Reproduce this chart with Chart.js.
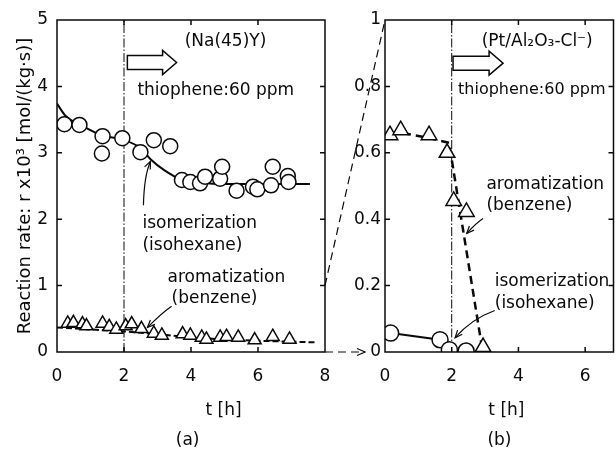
<!DOCTYPE html>
<html>
<head>
<meta charset="utf-8">
<script src="https://cdn.jsdelivr.net/npm/chart.js@4.4.1/dist/chart.umd.min.js"></script>
<style>
  html, body { margin: 0; padding: 0; background: #fff; }
  #wrap { position: relative; width: 616px; height: 450px; overflow: hidden; }
  #chartA { position: absolute; left: 0; top: 0; }
  #chartB { position: absolute; left: 316px; top: 0; }
</style>
</head>
<body>
<div id="wrap">
  <canvas id="chartA" width="334" height="450"></canvas>
  <canvas id="chartB" width="308" height="450"></canvas>
</div>
<script>
// (a) Na(45)Y
const naIsoTime = [0.22, 0.67, 1.34, 1.36, 1.95, 2.49, 2.89, 3.38, 3.73, 3.98, 4.27, 4.42, 4.87, 4.93, 5.36, 5.85, 5.98, 6.39, 6.44, 6.89, 6.91];
const naIsoRate = [3.43, 3.42, 2.99, 3.25, 3.22, 3.01, 3.19, 3.10, 2.59, 2.56, 2.54, 2.64, 2.61, 2.79, 2.43, 2.49, 2.45, 2.51, 2.79, 2.65, 2.56];
const naIsoFitTime = [0, 0.25, 0.7, 1.35, 1.95, 2.5, 2.8, 3.2, 3.7, 4.3, 5, 6, 7, 7.55];
const naIsoFitRate = [3.74, 3.56, 3.42, 3.26, 3.2, 3.07, 2.9, 2.74, 2.6, 2.55, 2.53, 2.53, 2.53, 2.53];
const naBenTime = [0.32, 0.49, 0.76, 0.88, 1.36, 1.56, 1.77, 2.05, 2.23, 2.52, 2.89, 3.13, 3.75, 3.98, 4.32, 4.46, 4.87, 5.06, 5.41, 5.90, 6.44, 6.94];
const naBenRate = [0.43, 0.44, 0.42, 0.39, 0.43, 0.38, 0.34, 0.39, 0.42, 0.35, 0.28, 0.25, 0.27, 0.25, 0.22, 0.19, 0.22, 0.23, 0.22, 0.18, 0.23, 0.19];
const naBenFitTime = [0, 1, 2, 3, 4, 5, 6, 7, 7.7];
const naBenFitRate = [0.37, 0.34, 0.31, 0.27, 0.22, 0.19, 0.17, 0.155, 0.145];

// (b) Pt/Al2O3-Cl-
const ptBenTime = [0.15, 0.47, 1.32, 1.86, 2.06, 2.44, 2.94];
const ptBenRate = [0.653, 0.668, 0.653, 0.60, 0.455, 0.422, 0.015];
const ptBenFitTime = [0.15, 0.5, 1.3, 1.92, 2.93];
const ptBenFitRate = [0.66, 0.66, 0.645, 0.63, 0.0];
const ptIsoTime = [0.17, 1.65, 1.93, 2.43];
const ptIsoRate = [0.057, 0.037, 0.007, 0.003];
const ptIsoFitTime = [0.17, 1.65, 1.93];
const ptIsoFitRate = [0.057, 0.037, 0.007];

const thiopheneOnset = 2; // h
const ink = '#0a0a0a';
const family = '"DejaVu Sans", sans-serif';

function pts(xs, ys) {
  return xs.map((x, i) => ({ x: x, y: ys[i] }));
}

// frame with inward ticks, notes, arrows
const frame = {
  id: 'frame',
  afterDatasetsDraw(chart, args, opts) {
    const { ctx, chartArea: a, scales: { x, y } } = chart;
    ctx.save();
    ctx.strokeStyle = ink;
    ctx.fillStyle = ink;
    ctx.lineWidth = 1.5;
    ctx.strokeRect(a.left, a.top, a.right - a.left, a.bottom - a.top);
    ctx.beginPath();
    x.ticks.forEach((t) => {
      if (t.value <= x.min || t.value >= x.max) return;
      const px = x.getPixelForValue(t.value);
      ctx.moveTo(px, a.bottom); ctx.lineTo(px, a.bottom - 5);
      ctx.moveTo(px, a.top); ctx.lineTo(px, a.top + 5);
    });
    y.ticks.forEach((t) => {
      if (t.value <= y.min || t.value >= y.max) return;
      const py = y.getPixelForValue(t.value);
      ctx.moveTo(a.left, py); ctx.lineTo(a.left + 5, py);
      ctx.moveTo(a.right, py); ctx.lineTo(a.right - 5, py);
    });
    ctx.stroke();

    // hollow arrow
    const b = opts.block;
    if (b) {
      const x0 = x.getPixelForValue(b.from), x1 = x.getPixelForValue(b.to);
      const yc = y.getPixelForValue(b.at), xb = x1 - 14;
      ctx.beginPath();
      ctx.moveTo(x0, yc - 7); ctx.lineTo(xb, yc - 7); ctx.lineTo(xb, yc - 12);
      ctx.lineTo(x1, yc); ctx.lineTo(xb, yc + 12); ctx.lineTo(xb, yc + 7);
      ctx.lineTo(x0, yc + 7); ctx.closePath();
      ctx.stroke();
    }

    // curved pointer arrows
    ctx.lineWidth = 1.2;
    (opts.pointers || []).forEach((p) => {
      const sx = x.getPixelForValue(p.s[0]), sy = y.getPixelForValue(p.s[1]);
      const cx = x.getPixelForValue(p.c[0]), cy = y.getPixelForValue(p.c[1]);
      const ex = x.getPixelForValue(p.e[0]), ey = y.getPixelForValue(p.e[1]);
      ctx.beginPath();
      ctx.moveTo(sx, sy);
      ctx.quadraticCurveTo(cx, cy, ex, ey);
      ctx.stroke();
      const ang = Math.atan2(ey - cy, ex - cx);
      ctx.beginPath();
      ctx.moveTo(ex - 8 * Math.cos(ang - 0.4), ey - 8 * Math.sin(ang - 0.4));
      ctx.lineTo(ex, ey);
      ctx.lineTo(ex - 8 * Math.cos(ang + 0.4), ey - 8 * Math.sin(ang + 0.4));
      ctx.stroke();
    });

    // notes
    ctx.textBaseline = 'middle';
    (opts.notes || []).forEach((n) => {
      ctx.font = (n.size || 17) + 'px ' + family;
      ctx.textAlign = n.align || 'left';
      ctx.fillText(n.text, x.getPixelForValue(n.t), y.getPixelForValue(n.v));
    });
    ctx.restore();
  }
};

function baseScales(xMax, yMax, yStep, yWidth, yPad) {
  return {
    x: {
      type: 'linear', min: 0, max: xMax,
      grid: { display: false, drawTicks: false },
      border: { display: false },
      ticks: { stepSize: 2, includeBounds: false, padding: 14, color: ink, font: { family: family, size: 17 } },
      afterFit: (s) => { s.height = 98; s.paddingLeft = 0; s.paddingRight = 0; }
    },
    y: {
      type: 'linear', min: 0, max: yMax,
      grid: { display: false, drawTicks: false },
      border: { display: false },
      ticks: {
        stepSize: yStep, padding: yPad, color: ink, font: { family: family, size: 17 },
        callback: (v) => String(Number(v.toFixed(2)))
      },
      afterFit: (s) => { s.width = yWidth; }
    }
  };
}

const scalesA = baseScales(8, 5, 1, 57, 9);
scalesA.y.title = {
  display: true,
  text: 'Reaction rate: r x10³ [mol/(kg·s)]',
  color: ink,
  font: { family: family, size: 18 },
  padding: { top: 15, bottom: 0 }
};

const chartA = new Chart(document.getElementById('chartA'), {
  type: 'scatter',
  data: {
    datasets: [
      {
        data: pts(naIsoTime, naIsoRate),
        pointRadius: 7.5, pointBackgroundColor: '#fff', pointBorderColor: ink, pointBorderWidth: 1.5,
        showLine: false, order: 0
      },
      {
        data: pts(naBenTime, naBenRate), pointStyle: 'triangle',
        pointRadius: 7.5, pointBackgroundColor: '#fff', pointBorderColor: ink, pointBorderWidth: 1.5,
        showLine: false, order: 1
      },
      {
        data: pts(naIsoFitTime, naIsoFitRate), showLine: true, pointRadius: 0,
        borderColor: ink, borderWidth: 2, cubicInterpolationMode: 'monotone', order: 2
      },
      {
        data: pts(naBenFitTime, naBenFitRate), showLine: true, pointRadius: 0,
        borderColor: ink, borderWidth: 2, borderDash: [6, 3], cubicInterpolationMode: 'monotone', order: 3
      },
      {
        data: [{ x: thiopheneOnset, y: 0 }, { x: thiopheneOnset, y: 5 }], showLine: true, pointRadius: 0,
        borderColor: ink, borderWidth: 1, borderDash: [9, 2, 1.5, 2], order: 4
      }
    ]
  },
  options: {
    responsive: false, animation: false, devicePixelRatio: 1,
    layout: { padding: { top: 20, right: 9, left: 0, bottom: 0 } },
    scales: scalesA,
    plugins: {
      legend: { display: false }, tooltip: { enabled: false },
      frame: {
        block: { from: 2.1, to: 3.57, at: 4.36 },
        pointers: [
          { s: [2.58, 2.21], c: [2.6, 2.66], e: [2.79, 2.87] },
          { s: [3.42, 0.69], c: [3.11, 0.58], e: [2.70, 0.37] }
        ],
        notes: [
          { text: '(Na(45)Y)', t: 3.81, v: 4.67 },
          { text: 'thiophene:60 ppm', t: 2.4, v: 3.94 },
          { text: 'isomerization', t: 2.55, v: 1.94 },
          { text: '(isohexane)', t: 2.55, v: 1.61 },
          { text: 'aromatization', t: 3.30, v: 1.125 },
          { text: '(benzene)', t: 3.42, v: 0.81 },
          { text: 't [h]', t: 4.97, v: -0.88, align: 'center' },
          { text: '(a)', t: 3.9, v: -1.33, align: 'center' }
        ]
      }
    }
  },
  plugins: [frame]
});

const offsetB = 316;

// dashed connectors from panel (a) to panel (b)
const link = {
  id: 'link',
  afterDraw(chart) {
    const { ctx, chartArea: a, scales: { y } } = chart;
    const xa = chartA.chartArea.right - offsetB;
    ctx.save();
    ctx.strokeStyle = ink;
    ctx.lineWidth = 1.2;
    ctx.setLineDash([8, 5]);
    ctx.beginPath();
    ctx.moveTo(xa, chartA.scales.y.getPixelForValue(1));
    ctx.lineTo(a.left, y.getPixelForValue(1));
    const y0 = chartA.scales.y.getPixelForValue(0);
    const xe = a.left - 20;
    ctx.moveTo(xa, y0);
    ctx.lineTo(xe, y0);
    ctx.stroke();
    ctx.setLineDash([]);
    ctx.beginPath();
    ctx.moveTo(xe - 8, y0 - 3.5); ctx.lineTo(xe, y0); ctx.lineTo(xe - 8, y0 + 3.5);
    ctx.stroke();
    ctx.restore();
  }
};

new Chart(document.getElementById('chartB'), {
  type: 'scatter',
  data: {
    datasets: [
      {
        data: pts(ptIsoTime, ptIsoRate),
        pointRadius: 8, pointBackgroundColor: '#fff', pointBorderColor: ink, pointBorderWidth: 1.5,
        showLine: false, order: 0
      },
      {
        data: pts(ptBenTime, ptBenRate), pointStyle: 'triangle',
        pointRadius: 9, pointBackgroundColor: '#fff', pointBorderColor: ink, pointBorderWidth: 1.5,
        showLine: false, order: 1
      },
      {
        data: pts(ptIsoFitTime, ptIsoFitRate), showLine: true, pointRadius: 0,
        borderColor: ink, borderWidth: 2, order: 2
      },
      {
        data: pts(ptBenFitTime, ptBenFitRate), showLine: true, pointRadius: 0,
        borderColor: ink, borderWidth: 2.5, borderDash: [8, 5], order: 3
      },
      {
        data: [{ x: thiopheneOnset, y: 0 }, { x: thiopheneOnset, y: 1 }], showLine: true, pointRadius: 0,
        borderColor: ink, borderWidth: 1, borderDash: [9, 2, 1.5, 2], order: 4
      }
    ]
  },
  options: {
    responsive: false, animation: false, devicePixelRatio: 1,
    layout: { padding: { top: 20, right: 10, left: 0, bottom: 0 } },
    scales: baseScales(6.85, 1, 0.2, 69, 4),
    plugins: {
      legend: { display: false }, tooltip: { enabled: false },
      frame: {
        block: { from: 2.04, to: 3.54, at: 0.87 },
        pointers: [
          { s: [2.94, 0.402], c: [2.75, 0.39], e: [2.45, 0.357] },
          { s: [3.29, 0.125], c: [2.6, 0.10], e: [2.1, 0.043] }
        ],
        notes: [
          { text: '(Pt/Al₂O₃-Cl⁻)', t: 2.9, v: 0.934 },
          { text: 'thiophene:60 ppm', t: 2.19, v: 0.789, size: 16 },
          { text: 'aromatization', t: 3.04, v: 0.503 },
          { text: '(benzene)', t: 3.04, v: 0.442 },
          { text: 'isomerization', t: 3.29, v: 0.211 },
          { text: '(isohexane)', t: 3.29, v: 0.147 },
          { text: 't [h]', t: 3.64, v: -0.176, align: 'center' },
          { text: '(b)', t: 3.43, v: -0.266, align: 'center' }
        ]
      }
    }
  },
  plugins: [frame, link]
});
</script>
</body>
</html>
